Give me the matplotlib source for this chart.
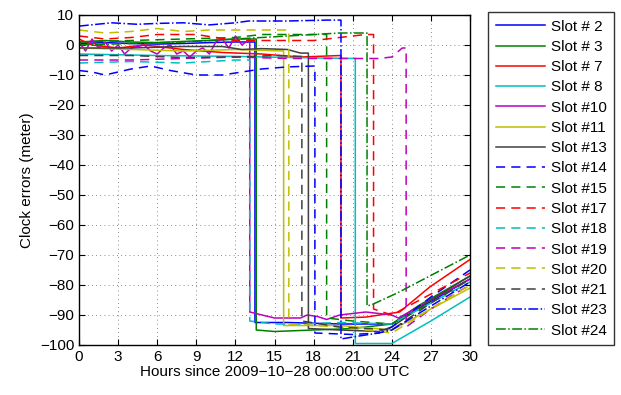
import numpy as np
import matplotlib
matplotlib.use('Agg')
import matplotlib.pyplot as plt

plt.rcParams['font.family'] = ['Liberation Sans', 'DejaVu Sans']
plt.rcParams['font.size'] = 11

# clock error data per slot (hours, meters)
t_s2 = [0, 2, 4, 6, 8, 10, 12, 13.5, 13.5, 16, 20, 24, 26, 28, 30]
v_s2 = [0.5, 0.8, 0.5, 0.3, 0.5, 0.8, 1.0, 1.0, -92.5, -92.5, -93, -93, -88, -83, -78]

t_s3 = [0, 2, 4, 6, 8, 10, 12, 13.6, 13.6, 15, 18, 21, 24, 26, 28, 30]
v_s3 = [1.0, 1.5, 1.0, 0.8, 1.2, 1.5, 2.0, 2.0, -95, -95.5, -95, -94.5, -93, -87, -82, -77]

t_s7 = [0, 1, 3, 5, 8, 11, 14, 17, 20.1, 20.1, 22, 24.6, 26.9, 30]
v_s7 = [2, 0, -1, 0, -1.5, -2.5, -3, -4, -3.5, -91, -90.7, -89, -80.7, -71.5]

t_s8 = [0, 6, 12, 18, 21.2, 21.2, 24, 27, 30]
v_s8 = [-3, -3.5, -3.8, -4.3, -4.5, -99.5, -99.5, -92, -84]

t_s10 = [0, 0.5, 1, 1.5, 2, 2.5, 3, 3.5, 4, 5, 5.5, 6, 6.5, 7, 7.5, 8, 8.5, 9,
         9.5, 10, 10.5, 11, 11.5, 12, 12.5, 13.1, 13.1, 15, 17, 17.5, 18.3, 19,
         20, 22, 24, 24.5, 27, 30]
v_s10 = [1, -2, 2, -1, 1, -2, 0, -3, -1, 0, -2, -3, -1, 0, -3, -2, -4, -2,
         -1, -3, 1, 2, -1, 3, 0, 2, -89, -91, -91, -90, -90.5, -91.5,
         -90, -89, -90, -91, -85, -78]

t_s11 = [0, 4, 8, 12, 15.7, 15.7, 20, 24, 27, 30]
v_s11 = [-1, -1.5, -2, -1.5, -2, -93.5, -93.5, -95, -88, -81]

t_s13 = [0, 4, 8, 11, 12.5, 14, 16, 17, 17.6, 17.6, 20, 23, 24, 27, 30]
v_s13 = [-1, -1, -0.5, -0.5, -1.5, -1.2, -1.5, -2.7, -2.7, -94.5, -95, -95.5, -94, -85, -77]

t_s14 = [0, 1, 2, 4, 5.5, 7, 9, 11, 12.5, 14, 16, 18.1, 18.1, 21, 23, 24, 27, 30]
v_s14 = [-8.5, -9, -10, -8, -7, -8.5, -10, -10, -9, -8, -7.3, -7, -96, -96.5, -96, -94, -84, -75]

t_s15 = [0, 4, 8, 12, 14, 17, 19, 19, 21, 24, 27, 30]
v_s15 = [1, 1.5, 2, 2.5, 3.5, 3.5, 3.5, -91, -92, -93, -86, -78]

t_s17 = [0, 2, 4, 6, 9, 12, 15, 18, 20, 22, 22.6, 22.6, 24, 27, 30]
v_s17 = [3, 2, 2.5, 3.5, 3.5, 1.5, 1.5, 1.5, 2.5, 3.5, 3.5, -88, -90, -83, -76]

t_s18 = [0, 4, 8, 12, 13.1, 13.1, 15, 17, 20, 24, 27, 30]
v_s18 = [-6, -5.5, -6, -5, -5, -92, -93, -93, -92.5, -93, -86, -79]

t_s19 = [0, 4, 8, 12, 16, 20, 23, 24, 24.8, 25.1, 25.1, 27, 28.6, 30]
v_s19 = [-5, -5, -4.5, -4, -4.5, -4.5, -4.5, -4, -1, -1, -94, -88, -83.5, -80]

t_s20 = [0, 2, 4, 6, 8, 10, 12, 14, 16.1, 16.1, 20, 24, 27, 30]
v_s20 = [5, 4, 4.5, 5.5, 4.5, 5, 5, 5, 5, -93, -94, -96, -88, -80]

t_s21 = [0, 4, 8, 12, 15, 17.1, 17.1, 20, 24, 27, 30]
v_s21 = [-3.5, -3.5, -4.2, -4, -3.5, -3.8, -92, -94, -95, -86, -78]

t_s23 = [0, 2.5, 4.5, 6, 8, 10, 12, 13, 16, 19, 20.1, 20.1, 21.5, 23, 24, 27, 30]
v_s23 = [6.3, 7.4, 6.9, 7.2, 7.4, 6.7, 7.4, 8, 8, 8.3, 8.3, -98, -97, -96, -95, -87, -79]

t_s24 = [0, 4, 8, 12, 16, 20, 22.1, 22.1, 22.5, 24.4, 30]
v_s24 = [0, 0.5, 1, 2, 3, 4, 4, -87, -86.5, -82.7, -70]

slots = ['Slot # 2', 'Slot # 3', 'Slot # 7', 'Slot # 8', 'Slot #10', 'Slot #11',
         'Slot #13', 'Slot #14', 'Slot #15', 'Slot #17', 'Slot #18', 'Slot #19',
         'Slot #20', 'Slot #21', 'Slot #23', 'Slot #24']
series = [(t_s2, v_s2), (t_s3, v_s3), (t_s7, v_s7), (t_s8, v_s8), (t_s10, v_s10),
          (t_s11, v_s11), (t_s13, v_s13), (t_s14, v_s14), (t_s15, v_s15),
          (t_s17, v_s17), (t_s18, v_s18), (t_s19, v_s19), (t_s20, v_s20),
          (t_s21, v_s21), (t_s23, v_s23), (t_s24, v_s24)]

# matlab default colour cycle of the time
colors = ['#0000ff', '#008000', '#ff0000', '#00bfbf', '#bf00bf', '#bfbf00', '#404040']
styles = ['-'] * 7 + [(0, (6, 4))] * 7 + ['-.'] * 2

fig = plt.figure(figsize=(6.21, 3.95), dpi=100)
ax = fig.add_axes([79 / 621, 1 - 345 / 395, (470 - 79) / 621, (345 - 15) / 395])

for i, (t, v) in enumerate(series):
    ax.plot(t, v, color=colors[i % 7], linestyle=styles[i], linewidth=1.1, label=slots[i])

ax.set_xlim(0, 30)
ax.set_ylim(-100, 10)
ax.set_xticks(np.arange(0, 31, 3))
ax.set_yticks(np.arange(-100, 11, 10))
ax.grid(True, linestyle=(0, (1, 4)), color='black', linewidth=0.6, alpha=0.6)
ax.tick_params(direction='in', top=True, right=True, length=4, labelsize=11)
for sp in ax.spines.values():
    sp.set_linewidth(1.0)

ax.set_xlabel('Hours since 2009\u221210\u221228 00:00:00 UTC', fontsize=11, labelpad=1)
ax.set_ylabel('Clock errors (meter)', fontsize=11, labelpad=4)

leg = fig.legend(loc='upper left', bbox_to_anchor=(488 / 621, 1 - 12 / 395),
                 frameon=True, fancybox=False, edgecolor='black', fontsize=11,
                 handlelength=3.2, labelspacing=0.41, borderpad=0.5,
                 handletextpad=0.4, borderaxespad=0)
leg.get_frame().set_linewidth(1.0)

fig.savefig('out.png', dpi=100)
